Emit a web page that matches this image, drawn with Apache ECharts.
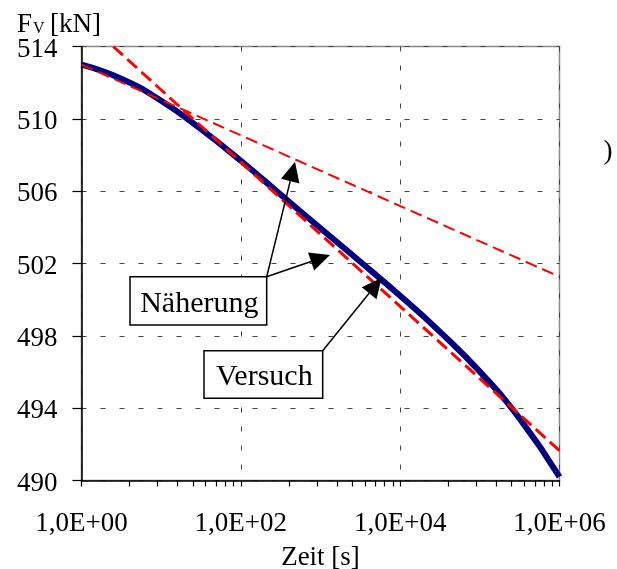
<!DOCTYPE html>
<html>
<head>
<meta charset="utf-8">
<title>Fv über Zeit</title>
<script src="https://cdn.jsdelivr.net/npm/echarts@6.0.0/dist/echarts.min.js"></script>
<style>
    html, body { margin: 0; padding: 0; background: #fff; }
    #main { width: 617px; height: 569px; }
</style>
</head>
<body>
<div id="main"></div>
<script>
// Versuch - Messkurve (Zeit [s], Fv [kN])
var versuchZeit = [1, 3.16, 10, 31.6, 100, 316, 1000, 3162, 1e4, 31623, 1e5, 316228, 1e6];
var versuchKraft = [513.0, 512.22, 511.0, 509.43, 507.68, 505.81, 503.95, 502.1, 500.21, 498.22, 496.02, 493.42, 490.2];

// Näherung - flache Gerade
var flachZeit = [1, 1e6];
var flachKraft = [513.0, 501.27];
// Näherung - steile Gerade
var steilZeit = [2.5, 1e6];
var steilKraft = [514.0, 491.65];

var xTickLabels = ['1,0E+00', '1,0E+02', '1,0E+04', '1,0E+06'];
// Striche an der Zeitachse (Excel setzt die Nebenstriche bei k^2 innerhalb von 2 Dekaden)
var majorTicks = [1, 100, 1e4, 1e6];
var minorTickBase = [4, 9, 16, 25, 36, 49, 64, 81];
var allTicks = majorTicks.concat([1, 100, 1e4].flatMap(function (d) { return minorTickBase.map(function (k) { return k * d; }); }))
    .sort(function (a, b) { return a - b; });

var FONT = '"Liberation Serif", "Times New Roman", serif';
var GRID_COLOR = '#444';

function pairs(xs, ys) {
    return xs.map(function (x, i) { return [x, ys[i]]; });
}

// Pfeil: Linie + gefüllte Spitze
function arrow(x1, y1, x2, y2) {
    var dx = x2 - x1, dy = y2 - y1, L = Math.hypot(dx, dy);
    var ux = dx / L, uy = dy / L, hl = 20, hw = 9.5;
    var bx = x2 - ux * hl, by = y2 - uy * hl;
    return [
        { type: 'line', z: 20, shape: { x1: x1, y1: y1, x2: bx, y2: by }, style: { stroke: '#000', lineWidth: 1.5 } },
        { type: 'polygon', z: 20, shape: { points: [[x2, y2], [bx - uy * hw, by + ux * hw], [bx + uy * hw, by - ux * hw]] }, style: { fill: '#000' } }
    ];
}

function box(x, y, w, h, label, ty) {
    return [
        { type: 'rect', z: 21, shape: { x: x, y: y, width: w, height: h }, style: { fill: '#fff', stroke: '#000', lineWidth: 1.5 } },
        { type: 'text', z: 22, x: x + w / 2 + 1, y: ty, style: { text: label, font: '30px ' + FONT, fill: '#000', align: 'center', verticalAlign: 'middle' } }
    ];
}

var myChart = echarts.init(document.getElementById('main'), null, { renderer: 'canvas' });

var option = {
    animation: false,
    backgroundColor: '#fff',
    grid: {
        left: 81.5, top: 46.5, width: 478, height: 434,
        outerBoundsMode: 'none', containLabel: false,
        show: true, borderColor: '#888', borderWidth: 1.5, backgroundColor: 'transparent'
    },
    xAxis: {
        type: 'log',
        logBase: 100,
        min: 1,
        max: 1e6,
        name: 'Zeit [s]',
        nameLocation: 'middle',
        nameGap: 64,
        nameTextStyle: { fontFamily: FONT, fontSize: 27, color: '#000' },
        axisLine: { lineStyle: { color: '#000', width: 1.5 } },
        axisTick: { customValues: allTicks, length: 6, lineStyle: { color: '#000', width: 1.2 } },
        axisLabel: {
            margin: 30,
            customValues: majorTicks,
            fontFamily: FONT, fontSize: 27, color: '#000',
            formatter: function (v) { return xTickLabels[Math.round(Math.log10(v) / 2)]; }
        },
        // Gitterlinien nur an den Hauptstrichen
        splitLine: {
            show: true,
            lineStyle: {
                color: allTicks.map(function (t) { return majorTicks.indexOf(t) >= 0 ? GRID_COLOR : 'rgba(0,0,0,0)'; }),
                width: 1, type: [5, 14]
            }
        }
    },
    yAxis: {
        type: 'value',
        min: 490,
        max: 514,
        interval: 4,
        axisLine: { show: true, lineStyle: { color: '#000', width: 1.5 } },
        axisTick: { show: true, length: 9, lineStyle: { color: '#000', width: 1.2 } },
        axisLabel: {
            margin: 24, fontFamily: FONT, fontSize: 27, color: '#000',
            formatter: function (v) { return '{a|' + v + '}'; },
            rich: { a: { fontFamily: FONT, fontSize: 27, color: '#000', padding: [6, 0, 0, 0] } }
        },
        splitLine: { show: true, lineStyle: { color: GRID_COLOR, width: 1, type: [5, 14] } }
    },
    series: [{
        name: 'Versuch',
        type: 'line',
        data: pairs(versuchZeit, versuchKraft),
        smooth: true,
        showSymbol: false,
        lineStyle: { color: '#000080', width: 6 },
        z: 3
    }, {
        name: 'Näherung flach',
        type: 'line',
        data: pairs(flachZeit, flachKraft),
        showSymbol: false,
        lineStyle: { color: '#ff0000', width: 2, type: [12, 6] },
        z: 4
    }, {
        name: 'Näherung steil',
        type: 'line',
        data: pairs(steilZeit, steilKraft),
        showSymbol: false,
        lineStyle: { color: '#ff0000', width: 3, type: [13, 6] },
        z: 4
    }],
    graphic: [
        { type: 'text', x: 17, y: 25, style: { text: 'F', font: '27px ' + FONT, fill: '#000', verticalAlign: 'middle' } },
        { type: 'text', x: 33, y: 29, style: { text: 'V', font: '16px ' + FONT, fill: '#000', verticalAlign: 'middle' } },
        { type: 'text', x: 50, y: 25, style: { text: '[kN]', font: '27px ' + FONT, fill: '#000', verticalAlign: 'middle' } },
        { type: 'text', x: 608, y: 152, style: { text: ')', font: '27px ' + FONT, fill: '#000', align: 'center', verticalAlign: 'middle' } }
    ]
        .concat(arrow(266.7, 276.7, 295, 161.7))
        .concat(arrow(266.7, 276.7, 330, 255))
        .concat(arrow(322.7, 350.7, 381.7, 277.7))
        .concat(box(130, 276.7, 136.7, 48.3, 'Näherung', 304.5))
        .concat(box(204, 350.7, 118.7, 47.6, 'Versuch', 377.5))
};

myChart.setOption(option);
</script>
</body>
</html>
